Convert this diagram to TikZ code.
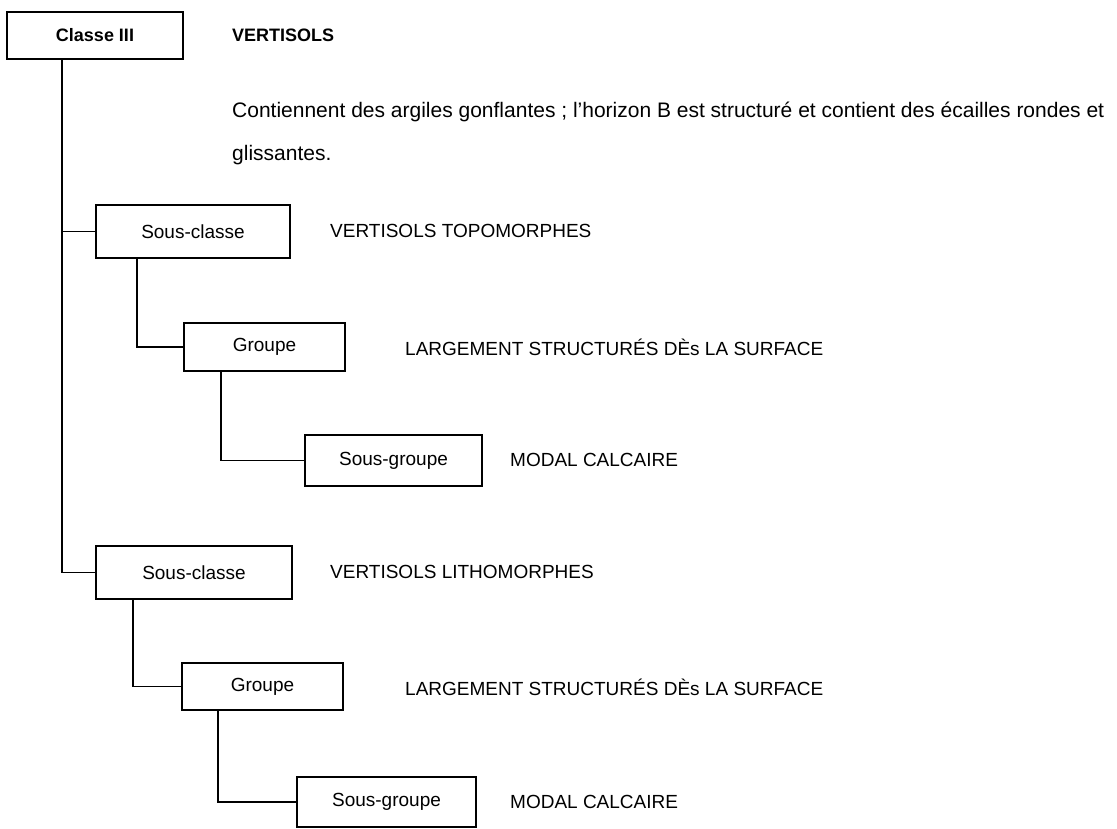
\documentclass[tikz,border=0pt]{standalone}
\usepackage{fontspec}
\setmainfont{Liberation Sans}
\usetikzlibrary{calc}
\begin{document}
\begin{tikzpicture}[x=1pt,y=-1pt,
  box/.style={draw,line width=1.6pt,inner sep=0pt,font=\fontsize{19}{22}\selectfont},
  lbl/.style={anchor=west,inner sep=0pt,font=\fontsize{19}{22}\selectfont},
  conn/.style={line width=1.5pt}]
\useasboundingbox (0,0) rectangle (1117,828);
% boxes
\node[box,minimum width=176pt,minimum height=47pt,font=\fontsize{18}{21}\selectfont\bfseries] (classe) at (95,35.5) {Classe III};
\node[box,minimum width=194pt,minimum height=53pt] (sc1) at (193,231.5) {Sous-classe};
\node[box,minimum width=161pt,minimum height=48pt] (g1) at (264.5,347) {Groupe};
\node[box,minimum width=177pt,minimum height=51pt] (sg1) at (393.5,460.5) {Sous-groupe};
\node[box,minimum width=196pt,minimum height=53pt] (sc2) at (194,572.5) {Sous-classe};
\node[box,minimum width=161pt,minimum height=47pt] (g2) at (262.5,686.5) {Groupe};
\node[box,minimum width=179pt,minimum height=50pt] (sg2) at (386.5,802) {Sous-groupe};
% labels
\node[lbl,font=\fontsize{18}{21}\selectfont\bfseries] (t0) at (232,35) {VERTISOLS};
\node[lbl,font=\fontsize{21}{24}\selectfont] (p1) at (232,112) {Contiennent des argiles gonflantes ; l'horizon B est structuré et contient des écailles rondes et};
\node[lbl,font=\fontsize{21}{24}\selectfont] (p2) at (232,155) {glissantes.};
\node[lbl] (t1) at (330,231) {VERTISOLS TOPOMORPHES};
\node[lbl] (t2) at (405,347) {LARGEMENT STRUCTURÉS DÈs LA SURFACE};
\node[lbl] (t3) at (510,460) {MODAL CALCAIRE};
\node[lbl] (t4) at (330,572) {VERTISOLS LITHOMORPHES};
\node[lbl] (t5) at (405,687) {LARGEMENT STRUCTURÉS DÈs LA SURFACE};
\node[lbl] (t6) at (510,802) {MODAL CALCAIRE};
% connectors
\coordinate (a0) at ($(classe.south west)+(56,0)$);
\coordinate (a1) at ($(sc1.south west)+(42,0)$);
\coordinate (a2) at ($(g1.south west)+(38,0)$);
\coordinate (a3) at ($(sc2.south west)+(38,0)$);
\coordinate (a4) at ($(g2.south west)+(37,0)$);
\draw[conn] (a0) |- (sc1.west);
\draw[conn] (a0) |- (sc2.west);
\draw[conn] (a1) |- (g1.west);
\draw[conn] (a2) |- (sg1.west);
\draw[conn] (a3) |- (g2.west);
\draw[conn] (a4) |- (sg2.west);
\end{tikzpicture}
\end{document}
